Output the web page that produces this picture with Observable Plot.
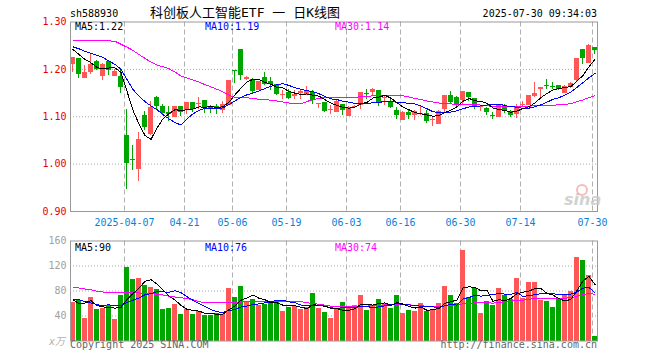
<!DOCTYPE html>
<html><head><meta charset="utf-8">
<script src="https://cdn.jsdelivr.net/npm/d3@7"></script>
<script src="https://cdn.jsdelivr.net/npm/@observablehq/plot@0.6"></script>
<style>
body{margin:0;background:#fff;}
#wrap{position:relative;width:660px;height:360px;overflow:hidden;background:#fff;}
#wrap svg{position:absolute;left:0;}
</style></head><body><div id="wrap"></div>
<script>
const dates = ["2025-03-24","2025-03-25","2025-03-26","2025-03-27","2025-03-28","2025-03-31","2025-04-01","2025-04-02","2025-04-03",
"2025-04-07","2025-04-08","2025-04-09","2025-04-10","2025-04-11","2025-04-14","2025-04-15","2025-04-16","2025-04-17","2025-04-18",
"2025-04-21","2025-04-22","2025-04-23","2025-04-24","2025-04-25","2025-04-28","2025-04-29","2025-04-30",
"2025-05-06","2025-05-07","2025-05-08","2025-05-09","2025-05-12","2025-05-13","2025-05-14","2025-05-15","2025-05-16",
"2025-05-19","2025-05-20","2025-05-21","2025-05-22","2025-05-23","2025-05-26","2025-05-27","2025-05-28","2025-05-29","2025-05-30",
"2025-06-03","2025-06-04","2025-06-05","2025-06-06","2025-06-09","2025-06-10","2025-06-11","2025-06-12","2025-06-13",
"2025-06-16","2025-06-17","2025-06-18","2025-06-19","2025-06-20","2025-06-23","2025-06-24","2025-06-25","2025-06-26","2025-06-27",
"2025-06-30","2025-07-01","2025-07-02","2025-07-03","2025-07-04","2025-07-07","2025-07-08","2025-07-09","2025-07-10","2025-07-11",
"2025-07-14","2025-07-15","2025-07-16","2025-07-17","2025-07-18","2025-07-21","2025-07-22","2025-07-23","2025-07-24","2025-07-25",
"2025-07-28","2025-07-29","2025-07-30"];
const open = [1.212,1.222,1.1825,1.1951,1.2175,1.1874,1.2175,1.1881,1.1846,1.0601,
1.0105,0.9916,1.1021,1.065,1.1399,1.1217,1.1091,1.1014,1.121,1.1147,
1.130,1.1275,1.1336,1.1217,1.1217,1.116,1.1266,1.1972,1.242,1.180,
1.179,1.1566,1.1825,1.1734,1.1685,1.1465,1.151,1.1455,1.151,1.1476,
1.151,1.128,1.130,1.1155,1.1119,1.1252,1.1035,1.121,1.1252,1.1483,
1.1524,1.1545,1.140,1.1322,1.1126,1.0951,1.1091,1.1042,1.107,1.1077,
1.0944,1.0867,1.1175,1.1455,1.1399,1.1357,1.1503,1.1385,1.121,1.1175,
1.1028,1.1007,1.1245,1.1105,1.1077,1.126,1.1266,1.1441,1.1601,1.1657,
1.1636,1.165,1.151,1.1629,1.179,1.242,1.214,1.2455];
const high = [1.226,1.223,1.2084,1.2336,1.218,1.212,1.2196,1.200,1.200,1.1161,
1.0392,1.0671,1.1105,1.1315,1.142,1.1266,1.1217,1.1217,1.122,1.131,
1.131,1.1399,1.134,1.123,1.1266,1.1315,1.176,1.1979,1.243,1.186,
1.1804,1.175,1.193,1.1825,1.169,1.1545,1.158,1.1545,1.1545,1.1636,
1.1545,1.129,1.130,1.1231,1.1336,1.1266,1.1217,1.1231,1.151,1.1566,
1.1594,1.1545,1.1441,1.1371,1.1196,1.1105,1.1126,1.1126,1.1231,1.1126,
1.1007,1.1126,1.1441,1.1524,1.1427,1.1524,1.1503,1.1385,1.1245,1.1196,
1.1091,1.1245,1.1266,1.1126,1.1266,1.1315,1.1455,1.172,1.1608,1.1776,
1.172,1.165,1.1664,1.172,1.2224,1.242,1.2524,1.2455];
const low = [1.193,1.1804,1.1804,1.1888,1.197,1.1769,1.1874,1.186,1.1497,0.9462,
0.9867,0.9643,1.072,1.060,1.1126,1.1021,1.0895,1.0986,1.100,1.1056,
1.1091,1.1147,1.107,1.1077,1.1056,1.107,1.123,1.1706,1.1755,1.176,
1.1476,1.155,1.165,1.1545,1.144,1.1371,1.1357,1.1357,1.1371,1.1455,
1.1266,1.1175,1.1091,1.1056,1.1091,1.1035,1.1007,1.1175,1.1161,1.1371,
1.1455,1.1217,1.1231,1.1175,1.0951,1.093,1.0951,1.0916,1.1021,1.0867,
1.0797,1.0846,1.1077,1.1266,1.1196,1.1266,1.1315,1.1161,1.1105,1.1021,
1.0951,1.0986,1.1077,1.0986,1.0965,1.1196,1.1231,1.1406,1.1406,1.158,
1.1566,1.1545,1.1497,1.1594,1.172,1.2105,1.2126,1.2315];
const close = [1.2245,1.1895,1.1944,1.2112,1.200,1.2112,1.1979,1.1965,1.1615,1.0021,
1.0098,1.0517,1.0776,1.1196,1.1217,1.1077,1.1056,1.121,1.1091,1.130,
1.116,1.128,1.1175,1.1175,1.1175,1.1252,1.1755,1.1965,1.1874,1.182,
1.1531,1.1741,1.1671,1.1671,1.1476,1.1476,1.1385,1.148,1.1524,1.1545,
1.1336,1.1287,1.1105,1.1161,1.1322,1.1126,1.1196,1.1217,1.151,1.1476,
1.1573,1.130,1.1406,1.1196,1.1021,1.1091,1.1021,1.1105,1.1077,1.0895,
1.0951,1.1105,1.1441,1.130,1.1266,1.1524,1.1399,1.1196,1.1217,1.1091,
1.1021,1.1231,1.1105,1.1035,1.1217,1.1266,1.1441,1.1497,1.1608,1.165,
1.1629,1.158,1.1629,1.1699,1.2224,1.2224,1.2503,1.2399];
const volume = [61.9,64.5,36.3,69.9,50.1,52.8,56.5,34.1,72.5,117.3,
98.7,100.3,88.5,85.3,82.1,50.1,52.3,58.1,42.1,50.1,
42.1,46.9,40.5,40.5,44.3,42.1,83.7,69.3,86.9,62.9,
66.1,56.5,58.1,61.9,62.9,46.9,53.9,55.5,50.1,53.9,
75.7,51.7,45.3,35.7,51.2,61.3,53.3,56.5,72.5,48.5,
56.5,66.1,60.8,51.7,72.5,43.7,48.5,46.9,59.7,46.9,
48.5,59.7,86.9,72.5,59.7,144.5,69.3,84.3,43.7,62.9,
56.5,83.7,72.5,66.1,99.7,67.7,93.3,93.3,64.5,62.9,
53.3,66.1,72.5,78.9,133.3,128.5,104.5,6.9];
const priceMa5Head = [1.242,1.2315,1.221,1.214];
const priceMa10Head = [1.2476,1.2434,1.2378,1.2336,1.2294,1.2252,1.2175,1.2105,1.200];
const priceMa30Head = [1.260,1.260,1.260,1.260,1.260,1.260,1.260,1.2595,1.253,1.2469,1.24,1.2315,1.2231,1.2154,1.2091,1.2056,1.2014,1.1944,1.186,1.1818,1.1776,1.1734,1.1678,1.163,1.158,1.1524,1.1455,1.1406,1.140];
const volMa5Head = [66.1,60.0,60.8,64.5];
const volMa10Head = [67.2,66.0,63.0,61.0,58.0,57.0,58.0,56.0,57.0];
const volMa30Head = [85.3,84.8,83.2,82.1,79.5,78.4,78.4,77.9,77.9,77.9,77.3,76.8,76.3,75.7,74.7,73.6,71.5,70.4,69.3,67.7,66.1,62.9,61.3,61.3,61.3,61.3,61.9,62.4,62.4];
const tickDates = ["2025-04-07","2025-04-21","2025-05-06","2025-05-19","2025-06-03","2025-06-16","2025-06-30","2025-07-14","2025-07-30"];
const tickLabels = ["2025-04-07","04-21","05-06","05-19","06-03","06-16","06-30","07-14","07-30"];
const priceTicks = [0.90,1.00,1.10,1.20,1.30];
const volTicks = [40,80,120,160];
const priceMaLabels = ["MA5:1.22","MA10:1.19","MA30:1.14"];
const volMaLabels = ["MA5:90","MA10:76","MA30:74"];
const titleText = "科创板人工智能ETF 一 日K线图";
const codeText = "sh588930";
const timeText = "2025-07-30 09:34:03";

const UP = "#ff5757", DOWN = "#00a600";
const maColors = ["#000000", "#0000ff", "#ff00ff"];
const mono = "DejaVu Sans Mono";
const N = dates.length;
const idx = d3.range(N);
const half = 2.5 / 6;
const xDomain = [-half, N - 1 + half];
const tickIdx = tickDates.map(d => dates.indexOf(d));
function movingAvg(values, n, head) {
  return values.map((v, i) => i < head.length ? head[i] : d3.mean(values.slice(i - n + 1, i + 1)));
}
const pMa = [movingAvg(close, 5, priceMa5Head), movingAvg(close, 10, priceMa10Head), movingAvg(close, 30, priceMa30Head)];
const vMa = [movingAvg(volume, 5, volMa5Head), movingAvg(volume, 10, volMa10Head), movingAvg(volume, 30, volMa30Head)];
const candles = idx.map(i => ({i, o: open[i], h: high[i], l: low[i], c: close[i], v: volume[i], col: close[i] >= open[i] ? UP : DOWN}));

function maLines(mas) {
  return [2, 1, 0].map(k => Plot.line(idx, {x: d => d, y: d => mas[k][d], stroke: maColors[k], strokeWidth: 1, shapeRendering: "crispEdges"}));
}

const priceChart = Plot.plot({
  width: 660, height: 232,
  marginLeft: 70, marginRight: 63, marginTop: 21.5, marginBottom: 21,
  x: {domain: xDomain, axis: null},
  y: {domain: [0.9, 1.3], axis: null},
  style: {fontFamily: mono, fontSize: "10px", background: "transparent"},
  marks: [
    Plot.ruleY(priceTicks.slice(1, -1), {stroke: "#a8a8a8", strokeDasharray: "1,2"}),
    Plot.ruleX(tickIdx, {dx: -2.5, stroke: "#b0b0b0", strokeDasharray: "5,3"}),
    Plot.ruleX(candles, {x: "i", y1: "l", y2: "h", stroke: "col", dx: -0.5, shapeRendering: "crispEdges"}),
    Plot.rect(candles, {x1: d => d.i - half, x2: d => d.i + half, y1: "o", y2: "c", fill: "col", shapeRendering: "crispEdges"}),
    Plot.ruleY(candles, {y: "o", x1: d => d.i - half, x2: d => d.i + half, stroke: "col", shapeRendering: "crispEdges"}),
    ...maLines(pMa),
    Plot.axisY({ticks: priceTicks, label: null, tickSize: 0, tickPadding: 4, tickFormat: d3.format(".2f"), color: "#e60000", fontSize: 10}),
    Plot.axisX({ticks: tickIdx, label: null, tickSize: 0, tickPadding: 7, dx: -2.5, tickFormat: i => tickLabels[tickIdx.indexOf(i)], color: "#0a7fd8", fontSize: 10}),
    Plot.frame({stroke: "#999"})
  ]
});

const volChart = Plot.plot({
  width: 660, height: 130,
  marginLeft: 70, marginRight: 63, marginTop: 10.5, marginBottom: 19.5,
  x: {domain: xDomain, axis: null},
  y: {domain: [0, 160], axis: null},
  style: {fontFamily: mono, fontSize: "10px", background: "transparent"},
  marks: [
    Plot.ruleY(volTicks.slice(0, -1), {stroke: "#a8a8a8", strokeDasharray: "1,2"}),
    Plot.ruleX(tickIdx, {dx: -2.5, stroke: "#b0b0b0", strokeDasharray: "5,3"}),
    Plot.rect(candles, {x1: d => d.i - half, x2: d => d.i + half, y1: 0, y2: "v", fill: "col", shapeRendering: "crispEdges"}),
    ...maLines(vMa),
    Plot.axisY({ticks: volTicks, label: null, tickSize: 0, tickPadding: 4, color: "#a0a0a0", fontSize: 10}),
    Plot.frame({stroke: "#999"})
  ]
});

const wrap = document.getElementById("wrap");
priceChart.style.top = "0px";
volChart.style.top = "230px";
wrap.appendChild(priceChart);
wrap.appendChild(volChart);

// text overlay
const ns = "http://www.w3.org/2000/svg";
const ov = document.createElementNS(ns, "svg");
ov.setAttribute("width", 660); ov.setAttribute("height", 360);
ov.style.top = "0px";
ov.style.fontFamily = mono;
ov.style.fontSize = "10px";
function addText(str, x, y, opts = {}) {
  const t = document.createElementNS(ns, "text");
  t.setAttribute("x", x); t.setAttribute("y", y);
  t.setAttribute("fill", opts.fill || "#000");
  if (opts.anchor) t.setAttribute("text-anchor", opts.anchor);
  if (opts.size) t.setAttribute("font-size", opts.size);
  if (opts.family) t.setAttribute("font-family", opts.family);
  if (opts.style) t.setAttribute("font-style", opts.style);
  if (opts.weight) t.setAttribute("font-weight", opts.weight);
  if (opts.opacity) t.setAttribute("opacity", opts.opacity);
  t.textContent = str;
  ov.appendChild(t);
}
addText(codeText, 70, 16.5);
addText(titleText, 150, 17, {size: 13, family: "DejaVu Sans Mono, Noto Sans CJK SC"});
addText(timeText, 597, 16.5, {anchor: "end"});
[75, 205, 335].forEach((x, k) => {
  addText(priceMaLabels[k], x, 30, {fill: maColors[k]});
  addText(volMaLabels[k], x, 251, {fill: maColors[k]});
});
addText("x万", 49, 345, {fill: "#b0b0b0", style: "italic", family: "DejaVu Sans, Noto Sans CJK SC"});
addText("Copyright 2025 SINA.COM", 70, 348, {fill: "#666"});
addText("http://finance.sina.com.cn", 597, 348, {fill: "#666", anchor: "end"});
addText("sina", 564, 205, {fill: "#c8c8c8", size: 16, style: "italic", weight: "bold", family: "DejaVu Sans", opacity: 0.8});
const eye = document.createElementNS(ns, "circle");
eye.setAttribute("cx", 582); eye.setAttribute("cy", 190); eye.setAttribute("r", 5);
eye.setAttribute("fill", "none"); eye.setAttribute("stroke", "#f2a0a0"); eye.setAttribute("stroke-width", 2); eye.setAttribute("opacity", 0.7);
ov.appendChild(eye);
wrap.appendChild(ov);
</script></body></html>
